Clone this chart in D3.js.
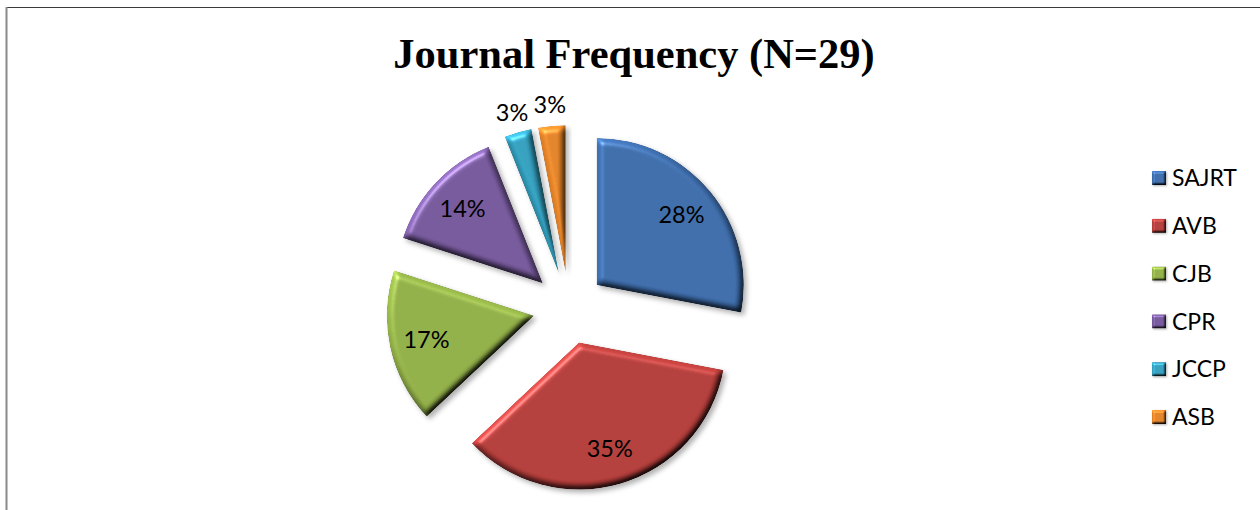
<!DOCTYPE html>
<html>
<head>
<meta charset="utf-8">
<script src="https://cdnjs.cloudflare.com/ajax/libs/d3/7.8.5/d3.min.js"></script>
<style>
  body { margin: 0; background: #fff; }
  svg { display: block; }
</style>
</head>
<body>
<div id="vis"></div>
<script>

// journal shares (percent of N=29)
var journals = ["SAJRT", "AVB", "CJB", "CPR", "JCCP", "ASB"];
var shares = [28, 35, 17, 14, 3, 3];
var chartTitle = "Journal Frequency (N=29)";

var width = 1260, height = 510;
var cx = 569, cy = 308;
var radius = 147;
var explode = 36;

var color = d3.scaleOrdinal()
  .domain(journals)
  .range(["#4173b5", "#c0413e", "#9bbb4c", "#7d5ea5", "#36aacb", "#f18b2b"]);

var svg = d3.select("#vis").append("svg")
  .attr("width", width)
  .attr("height", height);

// bevel + shadow like the office chart
var defs = svg.append("defs");
function makeBevel(id, blur, scale, shadow) {
  var f = defs.append("filter").attr("id", id)
    .attr("color-interpolation-filters", "sRGB")
    .attr("x", "-20%").attr("y", "-20%").attr("width", "140%").attr("height", "140%");
  f.append("feGaussianBlur").attr("in", "SourceAlpha").attr("stdDeviation", blur).attr("result", "b");
  var dl = f.append("feDiffuseLighting").attr("in", "b").attr("surfaceScale", scale)
    .attr("diffuseConstant", 1).attr("lighting-color", "#fff").attr("result", "d");
  dl.append("feDistantLight").attr("azimuth", 235).attr("elevation", 50);
  f.append("feComposite").attr("in", "SourceGraphic").attr("in2", "d")
    .attr("operator", "arithmetic").attr("k1", 1.2).attr("k2", 0).attr("k3", 0).attr("k4", 0)
    .attr("result", "lit");
  var sl = f.append("feSpecularLighting").attr("in", "b").attr("surfaceScale", scale)
    .attr("specularConstant", 0.3).attr("specularExponent", 40).attr("lighting-color", "#fff")
    .attr("result", "s");
  sl.append("feDistantLight").attr("azimuth", 235).attr("elevation", 50);
  f.append("feComposite").attr("in", "s").attr("in2", "SourceAlpha").attr("operator", "in").attr("result", "sIn");
  f.append("feComposite").attr("in", "lit").attr("in2", "sIn")
    .attr("operator", "arithmetic").attr("k2", 1).attr("k3", 1).attr("result", "lit2");
  f.append("feComposite").attr("in", "lit2").attr("in2", "SourceAlpha").attr("operator", "in").attr("result", "face");
  f.append("feOffset").attr("in", "SourceAlpha").attr("dx", shadow).attr("dy", shadow * 1.3).attr("result", "o");
  f.append("feGaussianBlur").attr("in", "o").attr("stdDeviation", shadow).attr("result", "ob");
  f.append("feFlood").attr("flood-color", "#000").attr("flood-opacity", 0.3);
  f.append("feComposite").attr("in2", "ob").attr("operator", "in").attr("result", "sh");
  var m = f.append("feMerge");
  m.append("feMergeNode").attr("in", "sh");
  m.append("feMergeNode").attr("in", "face");
}
makeBevel("bevel", 3, 4, 2.5);
makeBevel("bevelSmall", 1, 2, 0.8);

// frame
svg.append("line")
  .attr("x1", 6).attr("x2", width).attr("y1", 7.5).attr("y2", 7.5)
  .attr("stroke", "#3a3a3a").attr("stroke-width", 1.2);
svg.append("line")
  .attr("x1", 6.5).attr("x2", 6.5).attr("y1", 7).attr("y2", height)
  .attr("stroke", "#8a8a8a").attr("stroke-width", 2);

svg.append("text")
  .attr("x", 634).attr("y", 68)
  .attr("text-anchor", "middle")
  .style("font-family", "'Liberation Serif', 'Times New Roman', serif")
  .style("font-weight", "bold")
  .style("font-size", "42.5px")
  .text(chartTitle);

var pie = d3.pie().sort(null).value(function(d) { return d; })
  .startAngle(0).endAngle(2 * Math.PI);
var arcs = pie(shares);

var arc = d3.arc().innerRadius(0).outerRadius(radius);
var inLabel = d3.arc().innerRadius(110).outerRadius(110);
var outLabel = d3.arc().innerRadius(168).outerRadius(168);

function shift(d) {
  var a = (d.startAngle + d.endAngle) / 2;
  return [cx + explode * Math.sin(a), cy - explode * Math.cos(a)];
}

var slices = svg.append("g").selectAll("g.slice")
  .data(arcs)
  .enter().append("g")
  .attr("class", "slice")
  .attr("transform", function(d) { var p = shift(d); return "translate(" + p[0] + "," + p[1] + ")"; });

slices.append("path")
  .attr("d", arc)
  .attr("fill", function(d, i) { return color(journals[i]); })
  .attr("filter", "url(#bevel)");

slices.append("text")
  .attr("transform", function(d) {
    var c = d.data < 5 ? outLabel.centroid(d) : inLabel.centroid(d);
    return "translate(" + c[0] + "," + c[1] + ")";
  })
  .attr("text-anchor", "middle")
  .attr("dy", "0.36em")
  .style("font-family", "Lato, 'Open Sans', sans-serif")
  .style("font-size", "23.5px")
  .attr("fill", "#000")
  .text(function(d) { return d.data + "%"; });

// legend
var legend = svg.append("g").selectAll("g.key")
  .data(journals)
  .enter().append("g")
  .attr("class", "key")
  .attr("transform", function(d, i) { return "translate(1152," + (178 + i * 47.8) + ")"; });

legend.append("rect")
  .attr("x", 0).attr("y", -7).attr("width", 14).attr("height", 14)
  .attr("fill", function(d) { return color(d); })
  .attr("filter", "url(#bevelSmall)");

legend.append("text")
  .attr("x", 20).attr("dy", "0.36em")
  .style("font-family", "Lato, 'Open Sans', sans-serif")
  .style("font-size", "23px")
  .text(function(d) { return d; });

</script>
</body>
</html>
